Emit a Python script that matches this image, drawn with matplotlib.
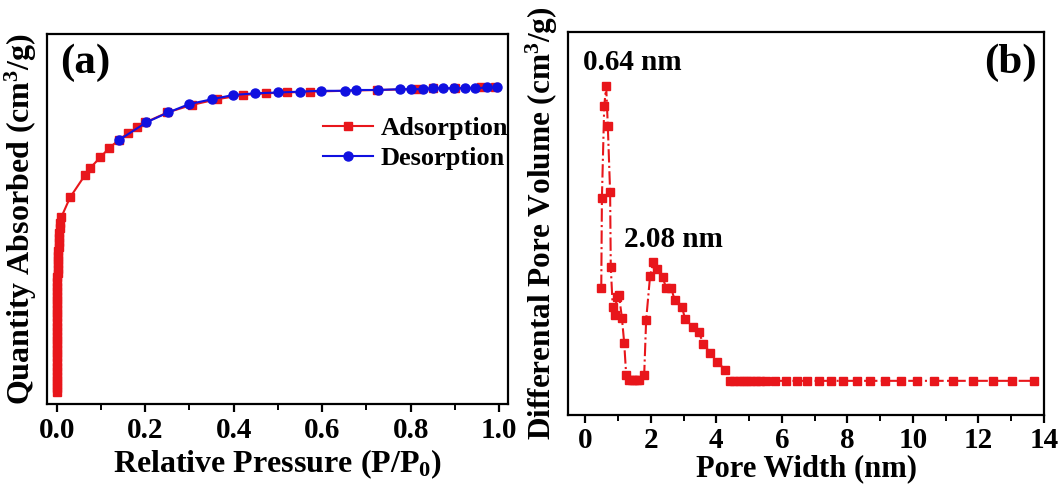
import matplotlib
matplotlib.use('Agg')
import matplotlib.pyplot as plt
from matplotlib.ticker import MultipleLocator

plt.rcParams['font.family'] = ['Liberation Serif', 'DejaVu Serif']
plt.rcParams['font.weight'] = 'bold'
plt.rcParams['mathtext.fontset'] = 'custom'
plt.rcParams['mathtext.rm'] = 'Liberation Serif:bold'
plt.rcParams['mathtext.bf'] = 'Liberation Serif:bold'
plt.rcParams['mathtext.it'] = 'Liberation Serif:italic:bold'
plt.rcParams['mathtext.default'] = 'bf'

# (a) isoterma - pressao relativa e quantidade adsorvida
p_ads = [0.00001, 0.00002, 0.00003, 0.00004, 0.00005, 0.00007, 0.00009, 0.0001, 0.00012, 0.00014,
         0.00017, 0.0002, 0.00023, 0.00026, 0.0003, 0.00035, 0.0004, 0.00045, 0.0005, 0.0006,
         0.0007, 0.0008, 0.0009, 0.001, 0.0012, 0.0014, 0.0016, 0.0018, 0.002, 0.0023,
         0.0026, 0.003, 0.0035, 0.004, 0.0045, 0.005, 0.006, 0.007, 0.008, 0.01,
         0.030, 0.064, 0.075, 0.098, 0.118, 0.140, 0.161, 0.182, 0.200, 0.250,
         0.305, 0.363, 0.422, 0.472, 0.520, 0.573, 0.725, 0.815, 0.850, 0.900,
         0.958, 0.990]
q_ads = [14, 19, 24, 29, 34, 40, 45, 50, 56, 61,
         66, 72, 77, 82, 88, 93, 98, 104, 109, 114,
         120, 125, 130, 136, 141, 146, 152, 157, 162, 168,
         173, 178, 184, 189, 194, 199, 205, 211, 217, 224,
         248, 275, 283, 296, 307, 317, 325, 332, 338, 350,
         359, 366, 371, 373, 374, 375, 377, 378, 379, 379,
         380, 380]
p_des = [0.996, 0.973, 0.946, 0.924, 0.897, 0.874, 0.851, 0.829, 0.800, 0.777,
         0.727, 0.677, 0.652, 0.598, 0.549, 0.501, 0.449, 0.399, 0.352, 0.299,
         0.252, 0.202, 0.141]
q_des = [380, 380, 379, 379, 379, 379, 379, 378, 378, 378,
         377, 377, 376, 376, 375, 374, 373, 371, 366, 360,
         350, 338, 317]

# (b) distribuicao de poros
largura = [0.49, 0.51, 0.58, 0.64, 0.69, 0.76, 0.78, 0.84, 0.91, 0.96,
           1.03, 1.12, 1.19, 1.25, 1.34, 1.42, 1.49, 1.57, 1.65, 1.80,
           1.86, 1.98, 2.08, 2.20, 2.36, 2.47, 2.62, 2.73, 2.95, 3.05,
           3.28, 3.46, 3.61, 3.81, 4.03, 4.27, 4.42, 4.55, 4.68, 4.81,
           4.94, 5.07, 5.20, 5.34, 5.51, 5.79, 6.12, 6.45, 6.78, 7.13,
           7.49, 7.88, 8.28, 8.69, 9.15, 9.63, 10.14, 10.65, 11.23, 11.82,
           12.43, 13.04, 13.70]
volume = [0.0127, 0.0217, 0.0309, 0.0329, 0.0289, 0.0223, 0.0148, 0.0108, 0.0100, 0.0118,
          0.0120, 0.0097, 0.0072, 0.0040, 0.0035, 0.0035, 0.0035, 0.0035, 0.0035, 0.0040,
          0.0095, 0.0139, 0.0153, 0.0146, 0.0138, 0.0127, 0.0127, 0.0115, 0.0108, 0.0096,
          0.0088, 0.0083, 0.0071, 0.0062, 0.0053, 0.0045, 0.0034, 0.0034, 0.0034, 0.0034,
          0.0034, 0.0034, 0.0034, 0.0034, 0.0034, 0.0034, 0.0034, 0.0034, 0.0034, 0.0034,
          0.0034, 0.0034, 0.0034, 0.0034, 0.0034, 0.0034, 0.0034, 0.0034, 0.0034, 0.0034,
          0.0034, 0.0034, 0.0034]

fig = plt.figure(figsize=(10.62, 4.88), dpi=100)
ax1 = fig.add_axes([0.0443, 0.172, 0.434, 0.758])
ax2 = fig.add_axes([0.535, 0.150, 0.448, 0.784])

ax1.plot(p_ads, q_ads, color='#e8161b', marker='s', markersize=6, linewidth=1.5,
         label='Adsorption', zorder=2)
ax1.plot(p_des, q_des, color='#1010e0', marker='o', markersize=6.5, linewidth=1.5,
         label='Desorption', zorder=3)
ax1.set_xlim(-0.022, 1.02)
ax1.set_ylim(0, 444)
ax1.set_xticks([0.0, 0.2, 0.4, 0.6, 0.8, 1.0])
ax1.xaxis.set_minor_locator(MultipleLocator(0.1))
ax1.set_yticks([])
ax1.set_xlabel('Relative Pressure (P/P$_0$)', fontsize=23, fontweight='bold', labelpad=3)
ax1.set_ylabel('Quantity Absorbed (cm$^3$/g)', fontsize=23, fontweight='bold', labelpad=6)
ax1.text(0.028, 0.975, '(a)', transform=ax1.transAxes, fontsize=31, fontweight='bold',
         va='top', ha='left')
leg = ax1.legend(loc='upper right', bbox_to_anchor=(1.035, 0.82), frameon=False,
                 fontsize=19, handlelength=1.9, handletextpad=0.3, labelspacing=0.25,
                 borderaxespad=0.2)

ax2.plot(largura, volume, color='#e8161b', marker='s', markersize=5.5, linewidth=1.5,
         linestyle='-.')
ax2.set_xlim(-0.52, 14)
ax2.set_ylim(0, 0.0383)
ax2.set_xticks(range(0, 15, 2))
ax2.xaxis.set_minor_locator(MultipleLocator(1))
ax2.set_yticks([])
ax2.set_xlabel('Pore Width (nm)', fontsize=22, fontweight='bold', labelpad=0)
ax2.set_ylabel('Differental Pore Volume (cm$^3$/g)', fontsize=22.5, fontweight='bold', labelpad=6)
ax2.text(0.93, 0.92, '(b)', transform=ax2.transAxes, fontsize=31, fontweight='bold',
         va='center', ha='center')
ax2.text(1.45, 0.0353, '0.64 nm', fontsize=21, fontweight='bold', ha='center', va='center')
ax2.text(2.7, 0.0175, '2.08 nm', fontsize=21, fontweight='bold', ha='center', va='center')

for ax in (ax1, ax2):
    for s in ax.spines.values():
        s.set_linewidth(1.6)
    ax.tick_params(axis='x', which='major', direction='out', length=6, width=1.6,
                   labelsize=21, pad=3)
    ax.tick_params(axis='x', which='minor', direction='out', length=4, width=1.4)
    for lab in ax.get_xticklabels():
        lab.set_fontweight('bold')

fig.savefig('out.png', dpi=100)
